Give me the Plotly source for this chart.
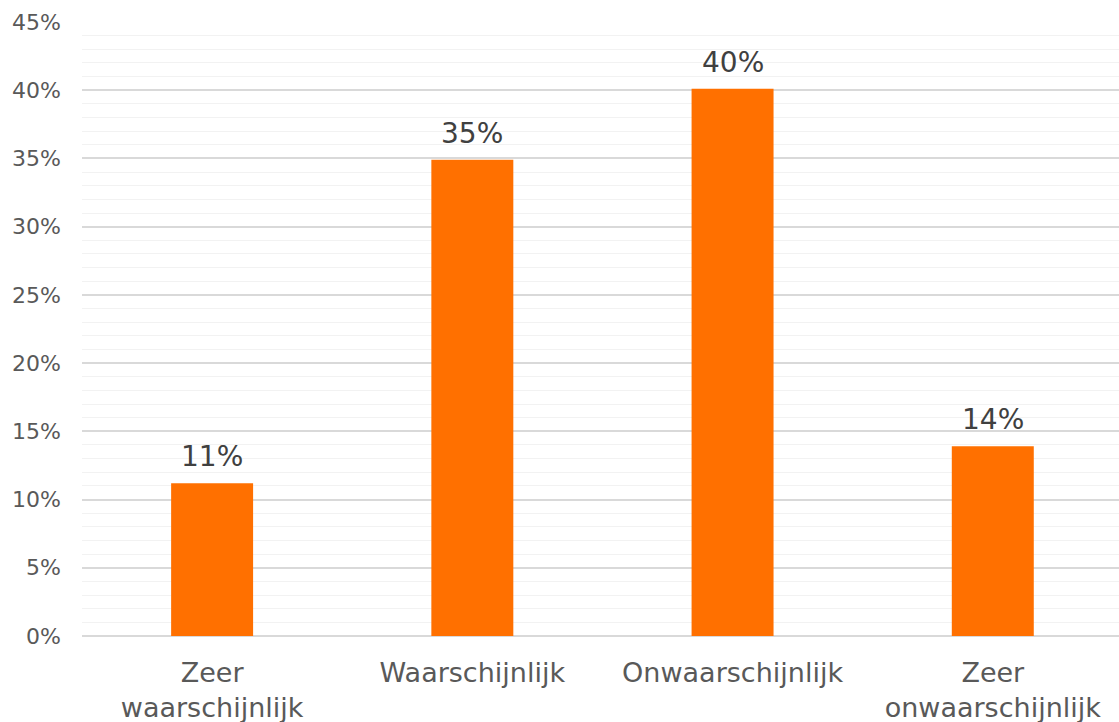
import plotly.graph_objects as go

categories = ["Zeer<br>waarschijnlijk", "Waarschijnlijk", "Onwaarschijnlijk", "Zeer<br>onwaarschijnlijk"]
values = [0.112, 0.349, 0.401, 0.139]
labels = ["11%", "35%", "40%", "14%"]

FONT = "Verdana, DejaVu Sans, sans-serif"

fig = go.Figure()
fig.add_trace(go.Bar(
    x=categories, y=values,
    marker=dict(color="#FF7000", line=dict(width=0)),
    width=0.315,
    hoverinfo="skip",
))

for c, v, t in zip(categories, values, labels):
    fig.add_annotation(x=c, y=v, text=t, showarrow=False, yanchor="bottom",
                       yshift=8, font=dict(family=FONT, size=28, color="#404040"))

fig.update_layout(
    width=1119, height=722,
    margin=dict(l=82, r=0, t=22, b=86, autoexpand=False),
    paper_bgcolor="white", plot_bgcolor="white",
    showlegend=False,
    font=dict(family=FONT),
    xaxis=dict(
        range=[-0.5, 3.485],
        showgrid=False, showline=False, zeroline=False,
        tickfont=dict(family=FONT, size=27, color="#595959"),
        ticks="", ticklabelstandoff=18,
        automargin=False,
    ),
    yaxis=dict(
        range=[0, 0.45],
        dtick=0.05, tick0=0,
        tickformat=".0%",
        showgrid=True, gridcolor="#d9d9d9", gridwidth=1.5,
        zeroline=True, zerolinecolor="#d9d9d9", zerolinewidth=1.5,
        showline=False,
        tickfont=dict(family=FONT, size=22, color="#595959"),
        ticks="", ticklabelstandoff=20,
        automargin=False,
        minor=dict(dtick=0.01, showgrid=True, gridcolor="#f2f2f2", gridwidth=1),
    ),
)

fig.write_html("out.html", config={"displayModeBar": False},
               post_script="document.body.style.margin='0';")
